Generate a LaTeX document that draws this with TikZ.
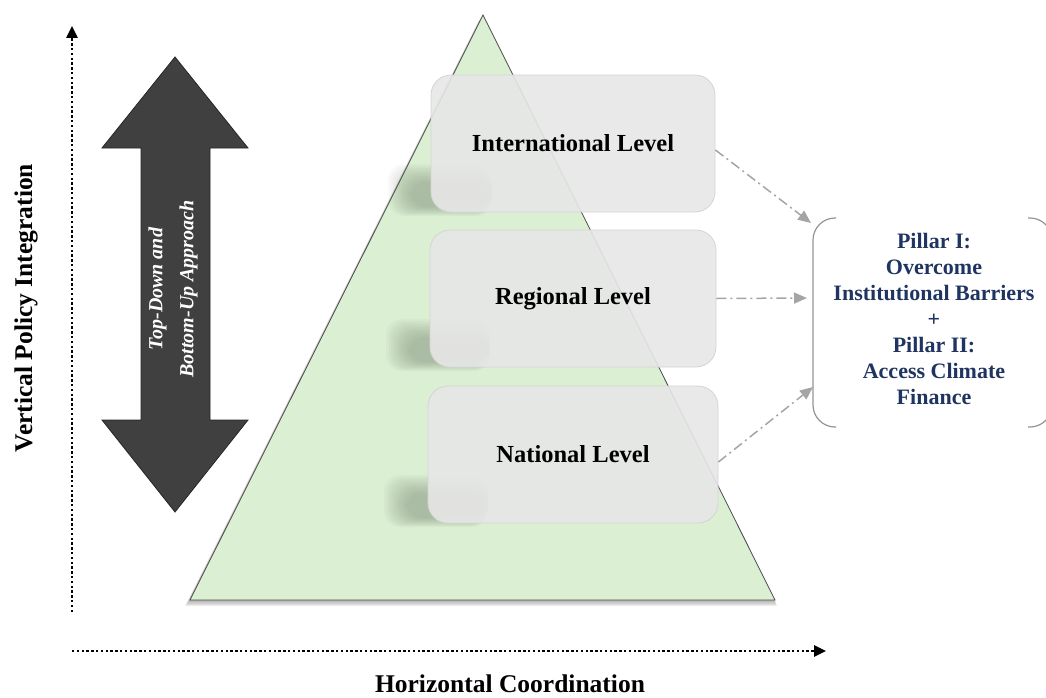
\documentclass[tikz,border=0pt]{standalone}
\usepackage{fontspec}
\setmainfont{Liberation Serif}
\usetikzlibrary{arrows.meta,shadows}
\definecolor{trigreen}{RGB}{219,239,211}
\definecolor{boxgray}{RGB}{231,231,231}
\definecolor{boxedge}{RGB}{212,212,212}
\definecolor{darkarrow}{RGB}{64,64,64}
\definecolor{conn}{RGB}{165,165,165}
\definecolor{navy}{RGB}{31,52,96}
\definecolor{shadowc}{RGB}{70,85,65}
\tikzset{
  levelbox/.style={draw=boxedge, fill=boxgray, fill opacity=0.9, text opacity=1,
    rounded corners=20pt, minimum width=284pt, minimum height=137pt,
    font=\fontsize{24.5}{28}\selectfont\bfseries, line width=0.8pt},
  axisline/.style={line width=2.6pt, dash pattern=on 2.4pt off 2.4pt, -{Triangle[length=12pt,width=11pt]}},
  axislabel/.style={font=\fontsize{25.5}{30}\selectfont\bfseries},
  connector/.style={conn, line width=1.5pt, dash pattern=on 10pt off 4pt on 2pt off 4pt,
    -{Triangle[length=13pt,width=11pt]}},
  bracketline/.style={draw=conn!90!black, line width=1.2pt, rounded corners=22pt},
}
\begin{document}
\begin{tikzpicture}[x=1pt,y=-1pt]
\useasboundingbox (0,0) rectangle (1046,698);
% triangle soft shadow
\foreach \k in {1,...,5}{
  \fill[black, opacity=0.07] (483-\k*0.8,15+\k*1) -- (775+\k*0.4,600+\k*1.2) -- (190-\k*1,600+\k*1.2) -- cycle;
}
\draw[fill=trigreen, draw=black!70, line width=0.8pt] (483,15) -- (775,600) -- (190,600) -- cycle;
% box shadows (soft, to the lower left)
\foreach \bx/\by in {432/212, 430/367, 428/523}{
  \foreach \k in {0,...,9}{
    \fill[shadowc, opacity=0.035, rounded corners=16pt]
      (\bx-44+\k*2.5, \by-48+\k*2) rectangle (\bx+60, \by+4-\k*1);
  }
}
% level boxes
\node[levelbox] (intl) at (573,143.5) {International Level};
\node[levelbox, minimum width=286pt] (reg) at (573,298.5) {Regional Level};
\node[levelbox, minimum width=290pt] (nat) at (573,454.5) {National Level};
% double arrow
\draw[fill=darkarrow, draw=black!85, line width=0.8pt]
  (175,57) -- (248,148) -- (210,148) -- (210,420) -- (248,420) -- (175,512)
  -- (102,420) -- (141,420) -- (141,148) -- (102,148) -- cycle;
\node[rotate=90, align=center, text=white, font=\fontsize{20}{31}\selectfont\bfseries\itshape]
  (approach) at (173,289) {Top-Down and\\Bottom-Up Approach};
% axes
\coordinate (vstart) at (72,612);
\coordinate (vend) at (72,26);
\draw[axisline] (vstart) -- (vend);
\coordinate (hstart) at (72,651);
\coordinate (hend) at (826,651);
\draw[axisline] (hstart) -- (hend);
\node[axislabel, rotate=90] (vlabel) at (26,308) {Vertical Policy Integration};
\node[axislabel, anchor=base, inner sep=0pt] (hlabel) at (510,692) {Horizontal Coordination};
% pillar bracket
\draw[bracketline] (836,218) -- (813,218) -- (813,427) -- (836,427);
\draw[bracketline] (1028,218) -- (1052,218) -- (1052,427) -- (1028,427);
\node[align=center, text=navy, font=\fontsize{22}{26}\selectfont\bfseries]
  (pillar) at (934,319) {Pillar I:\\Overcome\\Institutional Barriers\\+\\Pillar II:\\Access Climate\\Finance};
\coordinate (p1) at (811,223);
\coordinate (p2) at (807,298);
\coordinate (p3) at (813,387);
% connectors
\draw[connector] (intl.east |- 0,150) -- (p1);
\draw[connector] (reg.east) -- (p2);
\draw[connector] (nat.east |- 0,462) -- (p3);
\end{tikzpicture}
\end{document}
